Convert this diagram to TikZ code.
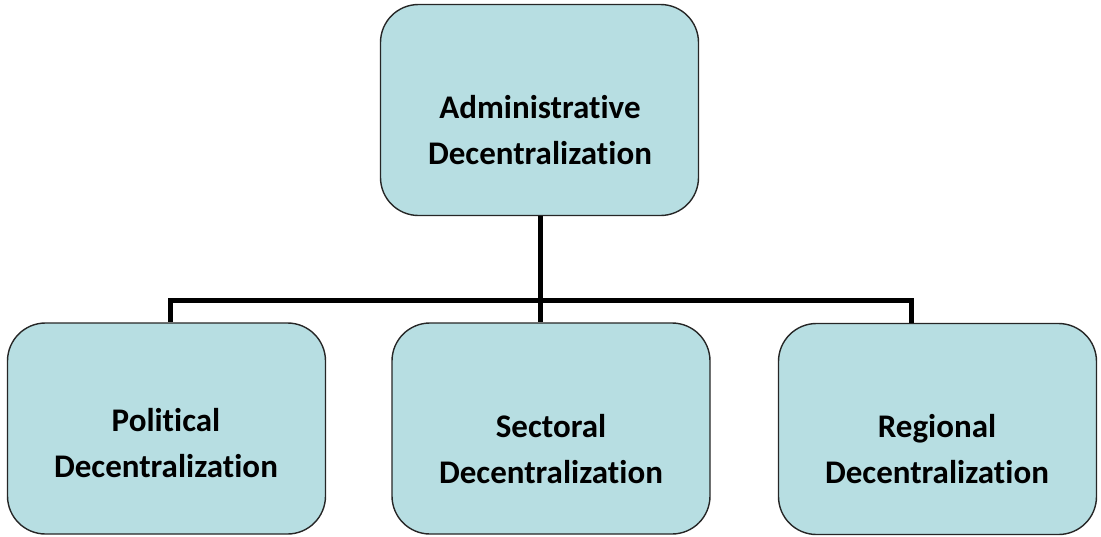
\documentclass[tikz,border=0pt]{standalone}
\usepackage{fontspec}
\setmainfont[Ligatures=NoCommon]{Carlito}
\definecolor{boxfill}{RGB}{183,222,226}
\begin{document}
\begin{tikzpicture}[x=1pt,y=-1pt,
  box/.style={draw=black!85,line width=1.4pt,fill=boxfill,rounded corners=38pt,
    minimum width=318pt,minimum height=211pt,inner sep=0pt},
  txt/.style={align=center,font=\bfseries\fontsize{33}{46}\selectfont},
  conn/.style={draw=black,line width=5pt}]
\useasboundingbox (0,0) rectangle (1101,536);
\node[box] (top) at (539.5,110) {};
\node[box] (pol) at (166.5,428.5) {};
\node[box] (sec) at (551,428.5) {};
\node[box] (reg) at (937.5,429) {};
\node[txt] (ttop) at (540,130) {Administrative\\Decentralization};
\node[txt] (tpol) at (166,443) {Political\\Decentralization};
\node[txt] (tsec) at (551,449) {Sectoral\\Decentralization};
\node[txt] (treg) at (937,449) {Regional\\Decentralization};
\coordinate (jl) at (170,300);
\coordinate (jm) at (540,300);
\coordinate (jr) at (911,300);
\draw[conn] (top.south -| jm) -- (jm);
\draw[conn,line cap=rect] (jl) -- (jr);
\draw[conn] (jl) -- (jl |- pol.north);
\draw[conn] (jm) -- (jm |- sec.north);
\draw[conn] (jr) -- (jr |- reg.north);
\end{tikzpicture}
\end{document}
